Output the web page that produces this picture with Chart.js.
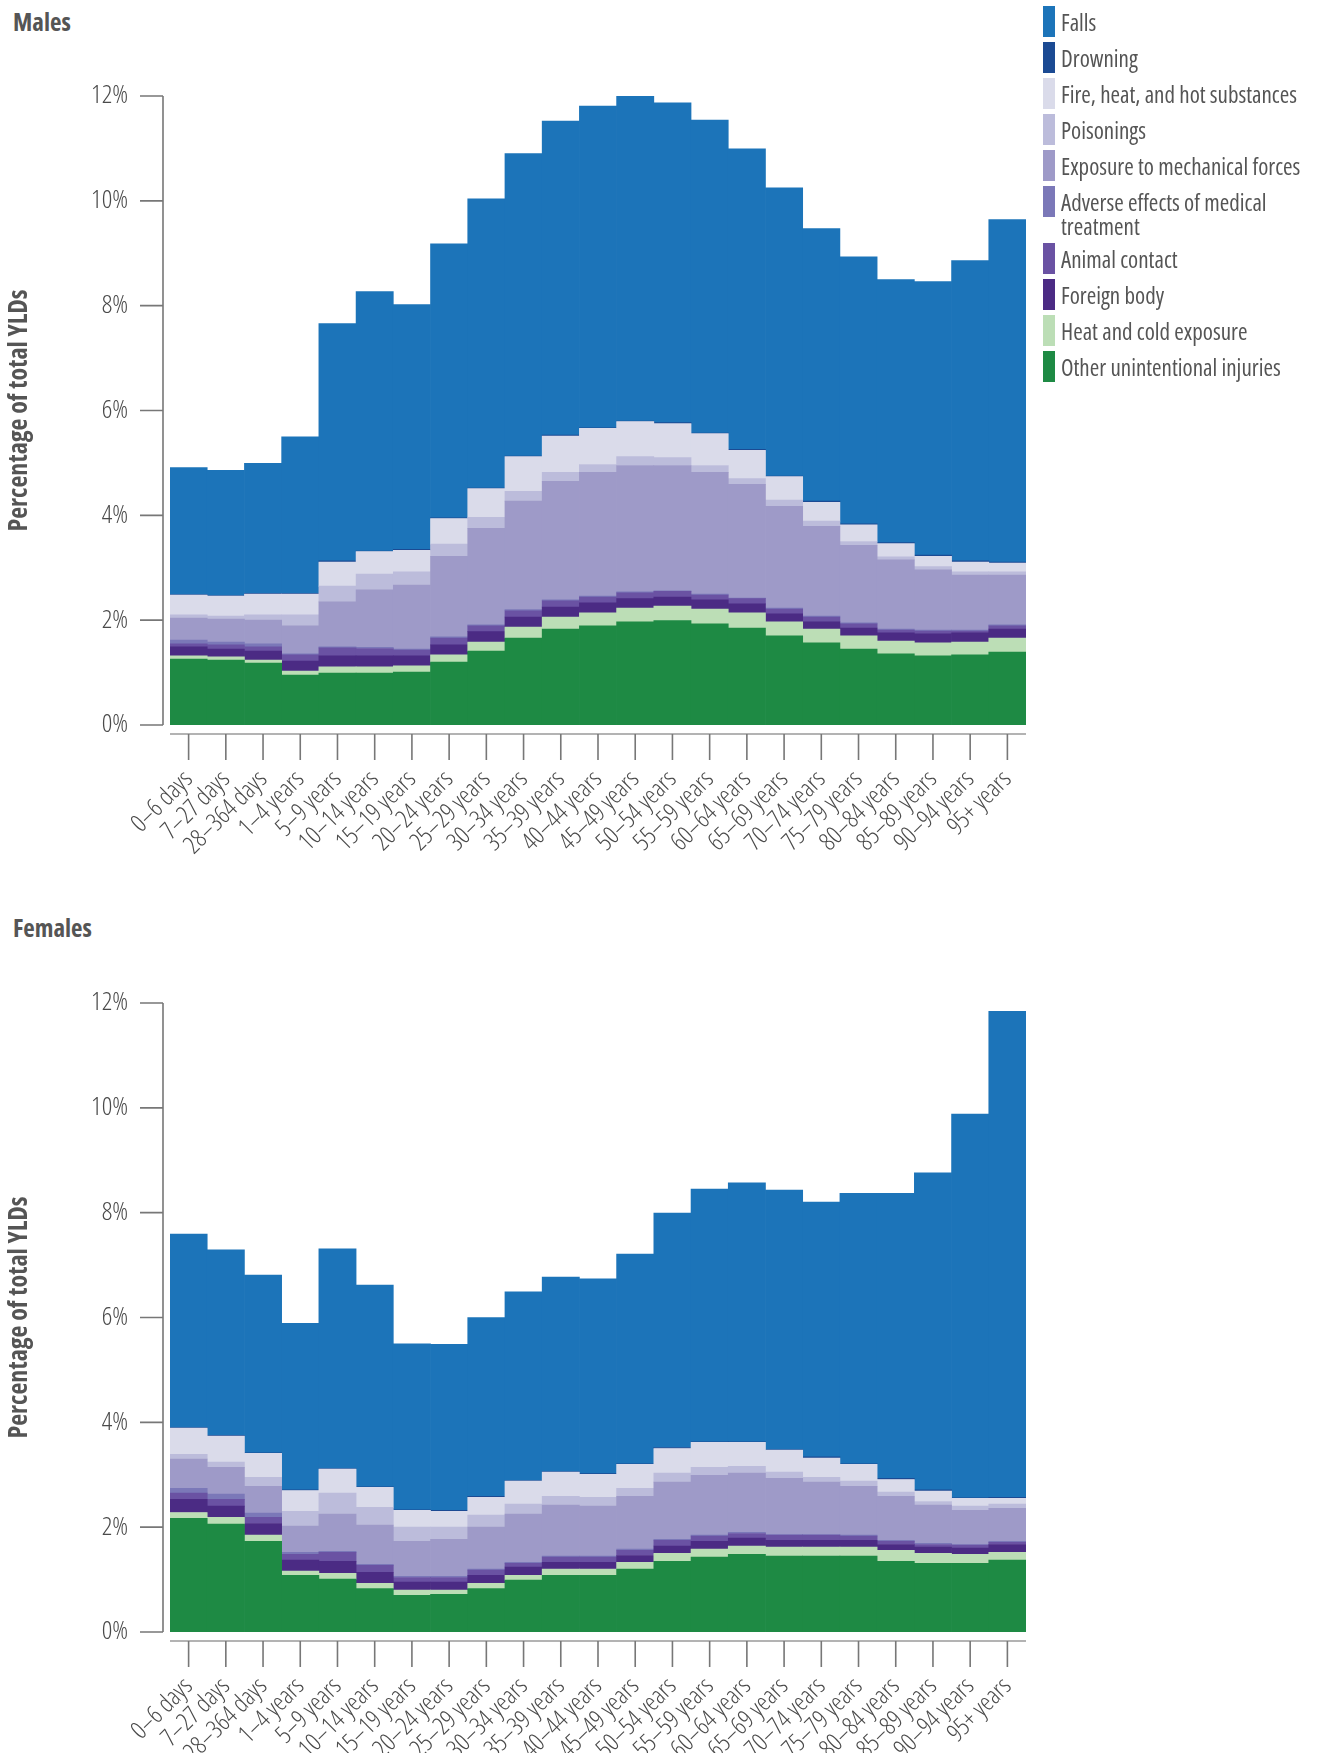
<!DOCTYPE html>
<html>
<head>
<meta charset="utf-8">
<script src="https://cdn.jsdelivr.net/npm/chart.js@4.4.1/dist/chart.umd.min.js"></script>
<style>
  html, body { margin: 0; padding: 0; background: #fff; }
  body { width: 1325px; height: 1753px; position: relative; overflow: hidden;
         font-family: 'Open Sans', sans-serif; font-stretch: condensed; color: #555; }
  .ttl { position: absolute; left: 13px; font-weight: 700; font-size: 25px; line-height: 25px; color: #555; font-stretch: condensed; }
  .wrap { position: absolute; left: 0; }
  #legend { position: absolute; left: 1043px; top: 6px; width: 280px; }
  .item { display: flex; align-items: flex-start; margin-bottom: 5px; }
  .sw { width: 12px; height: 31px; flex: none; }
  .lab { margin-left: 6px; padding-top: 4px; font-size: 23px; line-height: 24px; width: 250px; color: #555; font-stretch: condensed; }
</style>
</head>
<body>
<div class="ttl" style="top:9px">Males</div>
<div class="wrap" style="top:0px"><canvas id="males" width="1110" height="890"></canvas></div>
<div class="ttl" style="top:915px">Females</div>
<div class="wrap" style="top:907px"><canvas id="females" width="1110" height="846"></canvas></div>
<div id="legend"></div>
<script>
// ---------- DATA ----------
const categories = ['0–6 days','7–27 days','28–364 days','1–4 years','5–9 years','10–14 years','15–19 years',
  '20–24 years','25–29 years','30–34 years','35–39 years','40–44 years','45–49 years','50–54 years','55–59 years',
  '60–64 years','65–69 years','70–74 years','75–79 years','80–84 years','85–89 years','90–94 years','95+ years'];
const yTickValues = [0, 2, 4, 6, 8, 10, 12];
// legend order (top of stack first)
const causeNames = ['Falls','Drowning','Fire, heat, and hot substances','Poisonings','Exposure to mechanical forces',
  'Adverse effects of medical treatment','Animal contact','Foreign body','Heat and cold exposure','Other unintentional injuries'];

// Males (% of total YLDs)
const maleFalls     = [2.42,2.39,2.48,2.99,4.53,4.95,4.67,5.23,5.52,5.77,5.99,6.14,6.20,6.10,5.97,5.73,5.50,5.20,5.09,5.02,5.22,5.73,6.53];
const maleDrowning  = [0.01,0.01,0.01,0.01,0.02,0.01,0.02,0.01,0.01,0.01,0.02,0.01,0.01,0.02,0.01,0.02,0.01,0.02,0.02,0.02,0.02,0.02,0.02];
const maleFire      = [0.38,0.38,0.40,0.40,0.46,0.43,0.41,0.49,0.55,0.66,0.69,0.69,0.67,0.65,0.61,0.54,0.45,0.36,0.32,0.25,0.20,0.19,0.17];
const malePoison    = [0.06,0.06,0.10,0.21,0.30,0.30,0.25,0.23,0.21,0.19,0.17,0.15,0.17,0.15,0.13,0.11,0.12,0.10,0.07,0.06,0.06,0.06,0.06];
const maleMech      = [0.42,0.44,0.45,0.53,0.86,1.10,1.22,1.54,1.84,2.07,2.26,2.36,2.41,2.39,2.32,2.17,1.94,1.71,1.48,1.32,1.15,1.05,0.95];
const maleAdverse   = [0.07,0.05,0.06,0.02,0.02,0.02,0.02,0.02,0.02,0.02,0.02,0.02,0.02,0.01,0.02,0.01,0.02,0.02,0.02,0.02,0.02,0.02,0.02];
const maleAnimal    = [0.06,0.08,0.08,0.12,0.15,0.14,0.11,0.13,0.11,0.12,0.12,0.11,0.11,0.11,0.09,0.10,0.09,0.09,0.08,0.05,0.05,0.03,0.06];
const maleForeign   = [0.17,0.15,0.17,0.19,0.21,0.21,0.19,0.19,0.20,0.19,0.19,0.19,0.18,0.17,0.18,0.17,0.15,0.14,0.15,0.16,0.17,0.18,0.17];
const maleHeatCold  = [0.06,0.06,0.06,0.08,0.12,0.12,0.12,0.14,0.17,0.21,0.23,0.25,0.26,0.28,0.28,0.29,0.27,0.26,0.25,0.24,0.25,0.24,0.27];
const maleOther     = [1.26,1.24,1.18,0.95,0.99,0.99,1.01,1.20,1.41,1.66,1.83,1.89,1.97,1.99,1.93,1.85,1.70,1.57,1.45,1.36,1.32,1.34,1.39];

// Females (% of total YLDs)
const femaleFalls    = [3.69,3.54,3.39,3.18,4.19,3.85,3.17,3.17,3.41,3.60,3.71,3.72,4.00,4.47,4.82,4.94,4.95,4.86,5.16,5.44,6.05,7.32,9.27];
const femaleDrowning = [0.01,0.01,0.01,0.01,0.01,0.01,0.01,0.02,0.02,0.01,0.01,0.01,0.01,0.02,0.01,0.01,0.01,0.02,0.01,0.02,0.02,0.01,0.02];
const femaleFire     = [0.50,0.50,0.46,0.40,0.46,0.38,0.32,0.30,0.34,0.44,0.46,0.44,0.46,0.47,0.48,0.46,0.42,0.37,0.32,0.24,0.20,0.15,0.11];
const femalePoison   = [0.09,0.10,0.17,0.28,0.40,0.34,0.27,0.23,0.23,0.19,0.17,0.17,0.15,0.17,0.15,0.13,0.12,0.09,0.10,0.08,0.07,0.08,0.08];
const femaleMech     = [0.56,0.51,0.51,0.50,0.71,0.75,0.67,0.71,0.80,0.92,0.97,0.95,1.01,1.09,1.14,1.13,1.07,1.00,0.93,0.84,0.73,0.65,0.63];
const femaleAdverse  = [0.09,0.10,0.08,0.04,0.02,0.02,0.02,0.02,0.02,0.02,0.02,0.02,0.02,0.02,0.02,0.02,0.01,0.01,0.02,0.02,0.02,0.01,0.02];
const femaleAnimal   = [0.12,0.13,0.12,0.11,0.17,0.13,0.09,0.09,0.10,0.07,0.10,0.10,0.10,0.11,0.10,0.09,0.10,0.10,0.08,0.06,0.05,0.06,0.04];
const femaleForeign  = [0.25,0.21,0.22,0.21,0.23,0.21,0.15,0.15,0.15,0.16,0.13,0.13,0.13,0.14,0.15,0.15,0.13,0.13,0.13,0.11,0.12,0.12,0.15];
const femaleHeatCold = [0.11,0.13,0.12,0.08,0.11,0.10,0.10,0.08,0.10,0.09,0.12,0.12,0.13,0.15,0.15,0.16,0.17,0.17,0.17,0.21,0.19,0.17,0.15];
const femaleOther    = [2.17,2.06,1.73,1.08,1.01,0.83,0.70,0.72,0.83,0.99,1.08,1.08,1.20,1.35,1.43,1.48,1.45,1.45,1.45,1.35,1.31,1.31,1.37];

// ---------- STYLE ----------
const causeColors = ['#1c74b9','#1b4a93','#dadbea','#bcbcdb','#9e9ac8','#7b78b8','#6a52a3','#4b2b84','#bcdeb6','#1e8a44'];
const FONT = "'Open Sans', sans-serif";
const TXT = '#4a4a4a';

const maleSeries   = [maleFalls, maleDrowning, maleFire, malePoison, maleMech, maleAdverse, maleAnimal, maleForeign, maleHeatCold, maleOther];
const femaleSeries = [femaleFalls, femaleDrowning, femaleFire, femalePoison, femaleMech, femaleAdverse, femaleAnimal, femaleForeign, femaleHeatCold, femaleOther];

// legend
const legendEl = document.getElementById('legend');
causeNames.forEach((n, i) => {
  const it = document.createElement('div'); it.className = 'item';
  const sw = document.createElement('div'); sw.className = 'sw'; sw.style.background = causeColors[i];
  const lb = document.createElement('div'); lb.className = 'lab'; lb.textContent = n;
  it.appendChild(sw); it.appendChild(lb); legendEl.appendChild(it);
});

const offsetAxes = {
  id: 'offsetAxes',
  afterDraw(chart) {
    const {ctx, chartArea, scales} = chart;
    const x = scales.x, y = scales.y;
    ctx.save();
    ctx.lineWidth = 1.6;
    ctx.strokeStyle = '#777';
    const ax = chartArea.left - 7;
    const yTop = y.getPixelForValue(yTickValues[yTickValues.length - 1]);
    const yBot = y.getPixelForValue(yTickValues[0]);
    ctx.beginPath();
    ctx.moveTo(ax, yTop); ctx.lineTo(ax, yBot);
    yTickValues.forEach(v => { const p = y.getPixelForValue(v); ctx.moveTo(ax - 23, p); ctx.lineTo(ax, p); });
    ctx.stroke();
    const ay = chartArea.bottom + 9;
    ctx.strokeStyle = '#9a9a9a';
    ctx.beginPath(); ctx.moveTo(chartArea.left, ay); ctx.lineTo(chartArea.right, ay); ctx.stroke();
    ctx.strokeStyle = '#777';
    ctx.beginPath();
    categories.forEach((c, i) => { const p = x.getPixelForTick(i); ctx.moveTo(p, ay); ctx.lineTo(p, ay + 26); });
    ctx.stroke();
    ctx.restore();
  }
};

function makeChart(id, series) {
  const datasets = [];
  for (let i = series.length - 1; i >= 0; i--) {
    datasets.push({
      label: causeNames[i], data: series[i], backgroundColor: causeColors[i],
      borderWidth: 0, categoryPercentage: 1.0, barPercentage: 1.0, stack: 's'
    });
  }
  const canvas = document.getElementById(id);
  return new Chart(canvas, {
    type: 'bar',
    data: { labels: categories, datasets },
    plugins: [offsetAxes],
    options: {
      responsive: false, animation: false, devicePixelRatio: 1,
      layout: { padding: { top: 96, right: canvas.width - 1026, left: 0, bottom: 0 } },
      plugins: { legend: { display: false }, tooltip: { enabled: false } },
      scales: {
        x: {
          stacked: true,
          grid: { display: false, drawTicks: false },
          border: { display: false },
          ticks: { autoSkip: false, maxRotation: 45, minRotation: 45, padding: 40,
                   color: TXT, font: { family: FONT, size: 25, weight: '300 condensed' } },
          afterFit: s => { s.height = canvas.height - 725; }
        },
        y: {
          stacked: true, min: 0, max: 12,
          afterBuildTicks: s => { s.ticks = yTickValues.map(v => ({ value: v })); },
          grid: { display: false, drawTicks: false },
          border: { display: false },
          ticks: { padding: 42, color: TXT, font: { family: FONT, size: 26, weight: '300 condensed' }, callback: v => v + '%' },
          title: { display: true, text: 'Percentage of total YLDs', color: '#555',
                   font: { family: FONT, size: 26, weight: '700 condensed' }, padding: { top: 4, bottom: 0 } },
          afterFit: s => { s.width = 170; }
        }
      }
    }
  });
}
makeChart('males', maleSeries);
makeChart('females', femaleSeries);
</script>
</body>
</html>
